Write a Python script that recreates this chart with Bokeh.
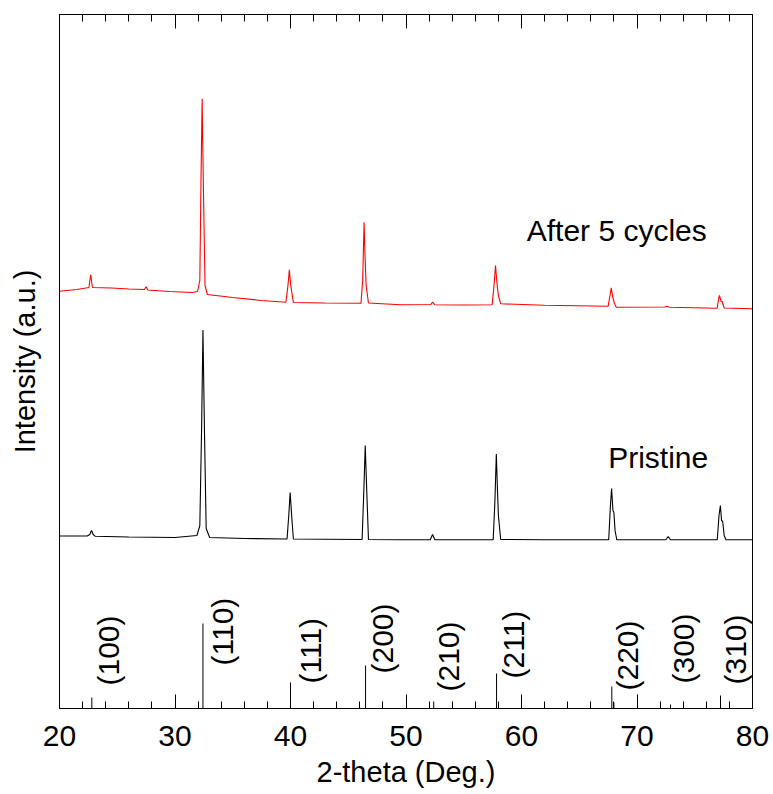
import numpy as np
from bokeh.plotting import figure
from bokeh.models import Range1d, LinearAxis, FixedTicker, CustomJSTickFormatter
from bokeh.core.properties import value
from bokeh.embed import file_html
from bokeh.resources import INLINE

FONT = "Liberation Sans"

# ---- data (2-theta in degrees, intensity in arbitrary units) ----
pristine_x = [20.0, 22.4, 22.62, 22.77, 22.92, 23.1, 26.0, 30.0, 31.9, 32.15, 32.3, 32.42, 32.55, 32.7, 33.0,
              36.0, 39.7, 39.85, 39.97, 40.1, 40.25, 43.0, 46.2, 46.35, 46.47, 46.6, 46.75, 49.5,
              52.1, 52.3, 52.5, 55.0, 57.55, 57.7, 57.82, 57.92, 58.0, 58.2, 62.0,
              67.55, 67.7, 67.8, 67.92, 68.0, 68.1, 68.25, 72.5, 72.7, 72.9,
              76.95, 77.1, 77.22, 77.32, 77.42, 77.55, 77.7, 80.0]
pristine_y = [172.5, 172.5, 174.0, 178.0, 174.0, 172.2, 171.5, 171.0, 173.0, 183.0, 278.0, 378.5, 278.0, 180.0, 171.0,
              170.0, 169.5, 193.0, 216.0, 193.0, 169.5, 169.2, 169.0, 218.0, 263.0, 218.0, 169.0, 168.7,
              168.7, 174.0, 168.7, 168.7, 168.7, 208.0, 254.5, 218.0, 193.0, 169.0, 168.7,
              168.7, 203.0, 220.0, 198.0, 196.0, 178.0, 168.7, 168.7, 172.0, 168.7,
              168.7, 193.0, 203.0, 188.0, 187.0, 173.0, 168.7, 168.7]

cycled_x = [20.0, 21.5, 22.55, 22.7, 22.85, 24.5, 26.0, 27.35, 27.5, 27.65, 29.5, 31.5, 31.95, 32.15, 32.25,
            32.35, 32.45, 32.6, 32.8, 35.0, 37.5, 39.6, 39.78, 39.9, 40.02, 40.25, 43.0, 46.1, 46.25,
            46.37, 46.45, 46.55, 46.75, 49.5, 52.15, 52.3, 52.5, 55.0, 57.46, 57.62, 57.75, 57.88, 58.0,
            58.2, 62.0, 67.5, 67.65, 67.77, 67.9, 68.05, 68.2, 72.4, 72.6, 72.8, 76.94, 77.07, 77.14,
            77.28, 77.37, 77.55, 80.0]
cycled_y = [417.3, 419.0, 421.0, 433.7, 421.0, 420.5, 419.5, 419.0, 421.7, 418.5, 417.0, 416.0, 417.0, 428.0, 528.0,
            609.7, 528.0, 423.0, 414.0, 411.0, 408.0, 406.3, 423.0, 438.7, 423.0, 406.0, 405.5, 405.3, 428.0,
            486.3, 453.0, 423.0, 405.5, 403.7, 404.0, 406.3, 403.7, 403.5, 403.7, 423.0, 443.0, 424.7, 413.0,
            404.7, 403.2, 402.3, 412.0, 420.7, 411.3, 405.0, 401.3, 401.5, 402.2, 401.3, 400.3, 410.0, 413.0,
            407.0, 407.0, 400.5, 399.7]

# reference pattern (stick lines)
ref_pos = [22.8, 32.42, 40.0, 46.5, 52.4, 57.84, 67.82, 68.0, 72.9, 77.23]
ref_int = [11, 85, 26, 43, 7, 35, 22, 6, 4, 13]

# hkl labels
hkl_text = ["(100)", "(110)", "(111)", "(200)", "(210)", "(211)", "(220)", "(300)", "(310)"]
hkl_label_x = [24.25, 34.08, 41.73, 47.99, 53.7, 59.33, 69.15, 74.05, 78.53]
hkl_label_y = [23, 43, 25, 35, 17, 30, 18, 25, 24]

series_names = ["After 5 cycles", "Pristine"]
series_label_x = [60.45, 67.5]
series_label_y = [478.0, 251.3]

xticks = [20, 30, 40, 50, 60, 70, 80]
xminor = list(np.arange(20, 81, 2))

p = figure(width=773, height=794, output_backend="svg", toolbar_location=None,
           x_range=Range1d(20, 80), y_range=Range1d(0, 694),
           min_border_left=59, min_border_right=21, min_border_top=14, min_border_bottom=86,
           x_axis_label="2-theta (Deg.)", y_axis_label="Intensity (a.u.)")
p.xgrid.visible = False
p.ygrid.visible = False
p.outline_line_color = "black"
p.outline_line_width = 1
p.background_fill_color = "white"
p.border_fill_color = "white"

xa = p.xaxis[0]
xa.ticker = FixedTicker(ticks=xticks, minor_ticks=xminor)
xa.major_tick_in = 14
xa.major_tick_out = 0
xa.minor_tick_in = 7
xa.minor_tick_out = 0
xa.major_label_standoff = 17
xa.major_label_text_font = FONT
xa.major_label_text_font_size = "30px"
xa.major_label_text_color = "black"
xa.axis_label_text_font = FONT
xa.axis_label_text_font_size = "29px"
xa.axis_label_text_font_style = "normal"
xa.axis_label_text_color = "black"
xa.axis_label_standoff = 7
xa.axis_line_color = "black"
xa.major_tick_line_color = "black"
xa.minor_tick_line_color = "black"

ya = p.yaxis[0]
ya.ticker = FixedTicker(ticks=[])
ya.major_tick_in = 0
ya.major_tick_out = 0
ya.minor_tick_in = 0
ya.minor_tick_out = 0
ya.major_label_standoff = 0
ya.major_label_text_font_size = "0px"
ya.axis_label_text_font = FONT
ya.axis_label_text_font_size = "29px"
ya.axis_label_text_font_style = "normal"
ya.axis_label_text_color = "black"
ya.axis_label_standoff = 19
ya.axis_line_color = "black"

top = LinearAxis(ticker=FixedTicker(ticks=xticks, minor_ticks=xminor),
                 formatter=CustomJSTickFormatter(code="return ''"))
top.major_tick_in = 14
top.major_tick_out = 0
top.minor_tick_in = 7
top.minor_tick_out = 0
top.major_label_standoff = 0
top.major_label_text_font_size = "0px"
top.axis_line_color = "black"
top.major_tick_line_color = "black"
top.minor_tick_line_color = "black"
p.add_layout(top, "above")

# stick pattern
p.segment(x0=ref_pos, y0=[0] * len(ref_pos), x1=ref_pos, y1=ref_int, line_color="black", line_width=1)

# curves
p.line(cycled_x, cycled_y, line_color="#ff0000", line_width=1.1)
p.line(pristine_x, pristine_y, line_color="black", line_width=1.1)

# hkl labels
p.text(x=hkl_label_x, y=hkl_label_y, text=hkl_text, angle=np.pi / 2,
       text_align="left", text_baseline="middle",
       text_font=value(FONT), text_font_size="30px", text_color="black")

# series labels
p.text(x=series_label_x, y=series_label_y, text=series_names,
       text_align="left", text_baseline="alphabetic",
       text_font=value(FONT), text_font_size="30px", text_color="black")

open("out.html", "w").write(file_html(p, INLINE))
